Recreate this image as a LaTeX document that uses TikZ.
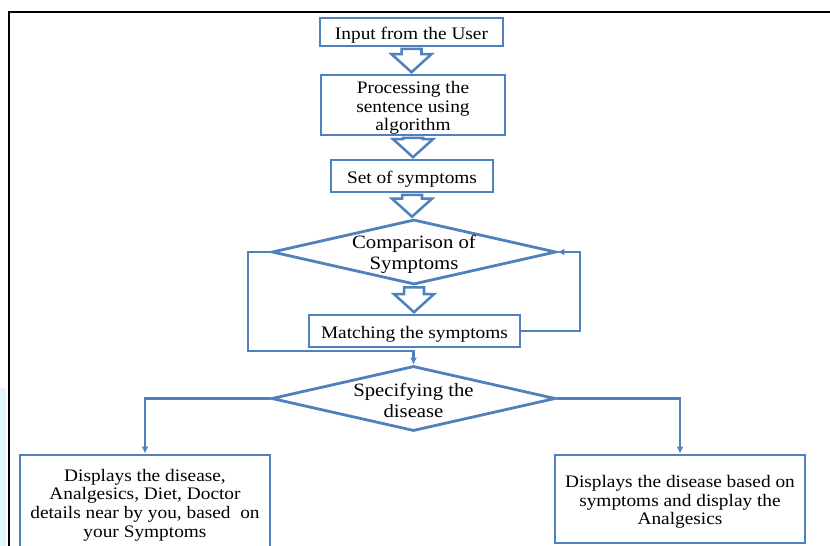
\documentclass[tikz,border=0pt]{standalone}
\usepackage{fontspec}
\setmainfont[FakeStretch=1.1]{Liberation Serif}
\usetikzlibrary{shapes.geometric,arrows.meta,calc}
\definecolor{boxblue}{RGB}{79,129,189}

\tikzset{
  flowbox/.style={draw=boxblue, line width=2pt, align=center, inner sep=0pt,
    font=\fontsize{12.5}{13.2}\selectfont},
  decision/.style={diamond, aspect=4.37, draw=boxblue, line width=2pt, align=center, inner sep=-3pt,
    minimum width=7.1cm, minimum height=1.625cm, font=\fontsize{13.4}{14.9}\selectfont},
  hollow/.style={draw=boxblue, line width=1.8pt, fill=white, line join=miter},
  link/.style={draw=boxblue, line width=1.8pt, -{Latex[length=5pt,width=5pt]}},
}
% struts that set the text a little lower in its box
\newcommand{\tstrut}{\rule{0pt}{13pt}}
\newcommand{\dstrut}{\rule{0pt}{12.5pt}}
% hollow block arrow from one box down to the next
\newcommand{\blockarrow}[2]{%
  \draw[hollow] let \p1=(#1.south), \p2=(#2.north) in
    (\x1-7.1pt,\y1-1pt) -- (\x1+7.1pt,\y1-1pt) -- (\x1+7.1pt,\y2+13.8pt)
    -- (\x1+14.2pt,\y2+13.8pt) -- (\x1,\y2+1pt) -- (\x1-14.2pt,\y2+13.8pt)
    -- (\x1-7.1pt,\y2+13.8pt) -- cycle;}

\begin{document}
\begin{tikzpicture}[x=0.025cm,y=-0.025cm]
	\useasboundingbox (0,0) rectangle (830,546);
	\clip (0,0) rectangle (830,546);
	\fill[cyan!12] (0,388) rectangle (6,546);
	\draw[line width=1.5pt] (9,560) -- (9,12) -- (840,12);

	% main column
	\node[flowbox, minimum width=4.575cm, minimum height=0.7cm] (input) at (411.5,32) {\tstrut Input from the User};
	\node[flowbox, minimum width=4.6cm, minimum height=1.5cm] (proc) at (413,105) {\tstrut Processing the\\sentence using\\algorithm};
	\node[flowbox, minimum width=4.05cm, minimum height=0.8cm] (symset) at (412,176) {\tstrut Set of symptoms};
	\node[decision] (compare) at (414,252) {\dstrut Comparison of\\Symptoms};
	\node[flowbox, minimum width=5.275cm, minimum height=0.8cm] (match) at (414.5,331) {\tstrut Matching the symptoms};
	\node[decision] (specify) at (413.5,398.5) {\dstrut Specifying the\\disease};

	% outputs
	\node[flowbox, minimum width=6.25cm, minimum height=2.35cm] (leftout) at (145,502)
		{\tstrut Displays the disease,\\Analgesics, Diet, Doctor\\details near by you, based\ \ on\\your Symptoms};
	\node[flowbox, minimum width=6.25cm, minimum height=2.2cm] (rightout) at (680,499)
		{\tstrut Displays the disease based on\\symptoms and display the\\Analgesics};

	\blockarrow{input}{proc}
	\blockarrow{proc}{symset}
	\blockarrow{symset}{compare}
	\blockarrow{compare}{match}

	% loops and branches
	\coordinate (loopl) at (248,351);
	\coordinate (loopr) at (580,252);
	\draw[link] (compare.west) -| (loopl) -| (specify.north);
	\draw[link] (match.east) -| (loopr) -- (compare.east);
	\draw[link] (specify.west) -| (leftout.north);
	\draw[link] (specify.east) -| (rightout.north);
\end{tikzpicture}
\end{document}
